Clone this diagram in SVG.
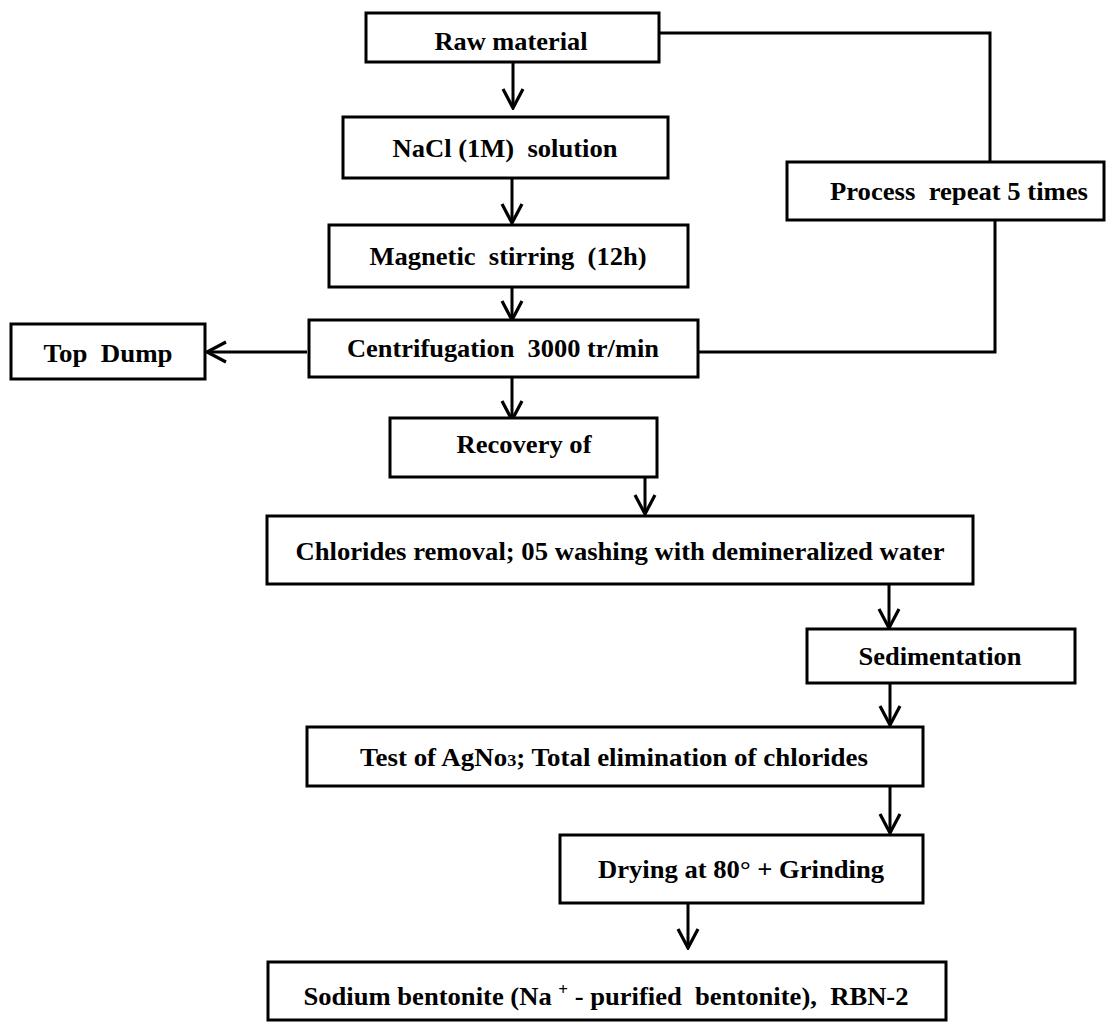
<svg xmlns="http://www.w3.org/2000/svg" width="1106" height="1023" viewBox="0 0 1106 1023">
<style>
.box{fill:#fff;stroke:#000;stroke-width:3}
.lbl{font-family:"Liberation Serif","Times New Roman",serif;font-weight:bold;font-size:25px;fill:#000;text-anchor:middle}
.con{fill:none;stroke:#000;stroke-width:3}
</style>
<defs>
<marker id="ah" markerUnits="userSpaceOnUse" markerWidth="24" markerHeight="24" viewBox="-22 -12 24 24" refX="0" refY="0" orient="auto">
<path d="M -19 -10 L 0 0 L -19 10" fill="none" stroke="#000" stroke-width="3.2"/>
</marker>
</defs>
<rect width="1106" height="1023" fill="#fff"/>
<g id="connectors">
<polyline class="con" points="659,33 990,33 990,162"/>
<polyline class="con" points="995,220 995,352 698,352"/>
<line class="con" x1="513" y1="62" x2="513" y2="108" marker-end="url(#ah)"/>
<line class="con" x1="512" y1="178" x2="512" y2="223" marker-end="url(#ah)"/>
<line class="con" x1="512" y1="287" x2="512" y2="320" marker-end="url(#ah)"/>
<line class="con" x1="512" y1="377" x2="512" y2="420" marker-end="url(#ah)"/>
<line class="con" x1="307" y1="352" x2="207" y2="352" marker-end="url(#ah)"/>
<line class="con" x1="645" y1="477" x2="645" y2="514" marker-end="url(#ah)"/>
<line class="con" x1="889" y1="584" x2="889" y2="628" marker-end="url(#ah)"/>
<line class="con" x1="890" y1="683" x2="890" y2="725" marker-end="url(#ah)"/>
<line class="con" x1="890" y1="786" x2="890" y2="833" marker-end="url(#ah)"/>
<line class="con" x1="688" y1="903" x2="688" y2="948" marker-end="url(#ah)"/>
</g>
<g id="raw"><rect class="box" x="366" y="13" width="293" height="49"/><text class="lbl" x="511" y="50" textLength="153" lengthAdjust="spacingAndGlyphs">Raw material</text></g>
<g id="nacl"><rect class="box" x="343" y="117" width="325" height="61"/><text class="lbl" x="505" y="157" textLength="225" lengthAdjust="spacingAndGlyphs" xml:space="preserve">NaCl (1M)  solution</text></g>
<g id="process"><rect class="box" x="787" y="162" width="317" height="58"/><text class="lbl" x="959" y="200" textLength="258" lengthAdjust="spacingAndGlyphs" xml:space="preserve">Process  repeat 5 times</text></g>
<g id="magnetic"><rect class="box" x="329" y="225" width="359" height="62"/><text class="lbl" x="508" y="265" textLength="277" lengthAdjust="spacingAndGlyphs" xml:space="preserve">Magnetic  stirring  (12h)</text></g>
<g id="centrif"><rect class="box" x="309" y="320" width="389" height="57"/><text class="lbl" x="503" y="357" textLength="312" lengthAdjust="spacingAndGlyphs" xml:space="preserve">Centrifugation  3000 tr/min</text></g>
<g id="topdump"><rect class="box" x="11" y="324" width="194" height="55"/><text class="lbl" x="108" y="362" textLength="129" lengthAdjust="spacingAndGlyphs" xml:space="preserve">Top  Dump</text></g>
<g id="recovery"><rect class="box" x="390" y="418" width="267" height="59"/><text class="lbl" x="524" y="453" textLength="135" lengthAdjust="spacingAndGlyphs">Recovery of</text></g>
<g id="chlorides"><rect class="box" x="267" y="516" width="706" height="68"/><text class="lbl" x="620" y="560" textLength="649" lengthAdjust="spacingAndGlyphs">Chlorides removal; 05 washing with demineralized water</text></g>
<g id="sedimentation"><rect class="box" x="807" y="629" width="268" height="54"/><text class="lbl" x="940" y="665" textLength="163" lengthAdjust="spacingAndGlyphs">Sedimentation</text></g>
<g id="test"><rect class="box" x="307" y="727" width="616" height="59"/><text class="lbl" x="614" y="766" textLength="508" lengthAdjust="spacingAndGlyphs">Test of AgNo<tspan font-size="17">3</tspan>; Total elimination of chlorides</text></g>
<g id="drying"><rect class="box" x="560" y="835" width="363" height="68"/><text class="lbl" x="741" y="878" textLength="286" lengthAdjust="spacingAndGlyphs">Drying at 80° + Grinding</text></g>
<g id="sodium"><rect class="box" x="268" y="962" width="678" height="58"/><text class="lbl" x="606" y="1005" textLength="605" lengthAdjust="spacingAndGlyphs" xml:space="preserve">Sodium bentonite (Na <tspan font-size="16" dy="-10">+</tspan><tspan dy="10"> - purified  bentonite),  RBN-2</tspan></text></g>
</svg>
